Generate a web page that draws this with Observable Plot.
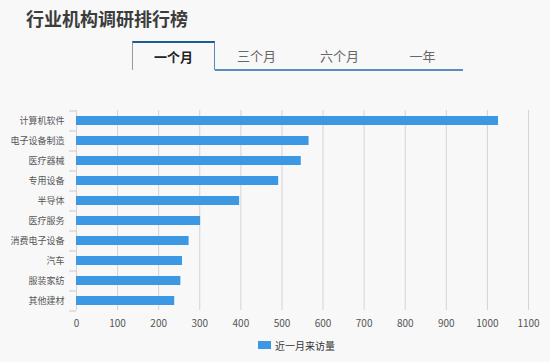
<!DOCTYPE html>
<html><head><meta charset="utf-8">
<script src="https://cdn.jsdelivr.net/npm/d3@7"></script>
<script src="https://cdn.jsdelivr.net/npm/@observablehq/plot@0.6"></script>
<style>
body{margin:0;background:#f8f8f9;font-family:"Noto Sans CJK SC",sans-serif;}
#wrap{position:relative;width:550px;height:362px;overflow:hidden;background:#f8f8f9;}
#title{position:absolute;left:26px;top:6px;font-size:18px;line-height:24px;font-weight:bold;color:#3c3c3c;white-space:nowrap;}
.tab{position:absolute;top:41px;width:83px;height:29px;line-height:29px;text-align:center;font-size:13px;color:#666;box-sizing:border-box;}
.tab.active{border-top:2px solid #1d5a98;border-left:1px solid #9a9a9a;border-right:1px solid #5b8cc0;font-weight:bold;color:#222;line-height:27px;}
#tabline{position:absolute;left:215px;top:69px;width:248px;height:2px;background:#5b8cc0;}
#chart{position:absolute;left:0;top:100px;}
#legend{position:absolute;left:258px;top:337px;height:16px;display:flex;align-items:center;font-size:10px;color:#333;white-space:nowrap;}
#legend .sw{display:inline-block;width:13px;height:8px;background:#3d98e4;margin-right:4px;}
</style></head>
<body><div id="wrap">
<div id="title">行业机构调研排行榜</div>
<div id="tabs"></div>
<div id="tabline"></div>
<div id="chart"></div>
<div id="legend"><span class="sw"></span><span id="legtext"></span></div>
</div>
<script>
const industries = ["计算机软件","电子设备制造","医疗器械","专用设备","半导体","医疗服务","消费电子设备","汽车","服装家纺","其他建材"];
const visits = [1027, 566, 547, 492, 397, 302, 274, 258, 254, 239];
const xTicks = [0,100,200,300,400,500,600,700,800,900,1000,1100];
const tabLabels = ["一个月","三个月","六个月","一年"];
const seriesName = "近一月来访量";

const tabsEl = document.getElementById("tabs");
tabLabels.forEach((t,i)=>{
  const d = document.createElement("div");
  d.className = "tab" + (i===0 ? " active" : "");
  d.style.left = (132 + 83*i) + "px";
  d.textContent = t;
  tabsEl.appendChild(d);
});
document.getElementById("legtext").textContent = seriesName;

const data = industries.map((name,i)=>({name, value: visits[i]}));
const barColor = "#3d98e4";
const plot = Plot.plot({
  width: 550, height: 230,
  marginTop: 10, marginBottom: 20, marginLeft: 76, marginRight: 22,
  style: {background: "transparent", fontFamily: "'Noto Sans CJK SC', sans-serif", overflow: "visible"},
  x: {domain: [0, 1100], axis: null},
  y: {domain: industries, paddingInner: 0.55, paddingOuter: 0.275, axis: null},
  marks: [
    Plot.gridX(xTicks, {stroke: "#d4d4d4", strokeOpacity: 1}),
    Plot.axisX(xTicks, {tickSize: 0, tickPadding: 9, fontSize: 10, fill: "#555", label: null, tickFormat: d => String(d)}),
    Plot.axisY({tickSize: 0, tickPadding: 12, fontSize: 9, fill: "#555", label: null}),
    Plot.axisY(industries, {tickSize: 7, dy: -10, stroke: "#c8c8c8", fill: "none", label: null}),
    Plot.axisY(industries.slice(-1), {tickSize: 7, dy: 10, stroke: "#c8c8c8", fill: "none", label: null}),
    Plot.barX(data, {x: "value", y: "name", fill: barColor})
  ]
});
document.getElementById("chart").appendChild(plot);
</script>
</body></html>
